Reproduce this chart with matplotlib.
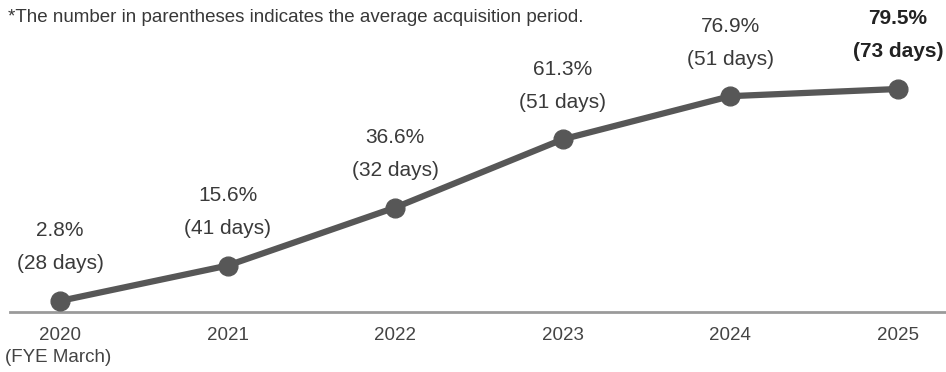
import matplotlib
matplotlib.use("Agg")
import matplotlib.pyplot as plt
from matplotlib import font_manager

years = ["2020", "2021", "2022", "2023", "2024", "2025"]
rates = [2.8, 15.6, 36.6, 61.3, 76.9, 79.5]
days = [28, 41, 32, 51, 51, 73]
note = "*The number in parentheses indicates the average acquisition period."

names = {f.name for f in font_manager.fontManager.ttflist}
family = "Liberation Sans Narrow" if "Liberation Sans Narrow" in names else "Liberation Sans"
plt.rcParams["font.family"] = [family, "DejaVu Sans"]

W, H = 946, 372
fig = plt.figure(figsize=(W / 100, H / 100), dpi=100)
ax = fig.add_axes([10 / W, 60 / H, 936 / W, 312 / H])

x = list(range(len(years)))
ax.plot(x, rates, color="#575757", lw=4.5, marker="o", ms=13.5, mfc="#575757",
        mec="#575757", solid_capstyle="round", zorder=3)

step = (898 - 60) / 5
ax.set_xlim((10 - 60) / step, (946 - 60) / step)
ax.set_ylim(-1.2, 111.7)

for i, (r, d) in enumerate(zip(rates, days)):
    last = i == len(rates) - 1
    weight = "bold" if last else "normal"
    color = "#222222" if last else "#3a3a3a"
    ax.annotate(f"{r}%", (i, r), xytext=(0, 70 * 0.72), textcoords="offset points",
                ha="center", va="center", fontsize=15, color=color, fontweight=weight)
    ax.annotate(f"({d} days)", (i, r), xytext=(0, 37 * 0.72), textcoords="offset points",
                ha="center", va="center", fontsize=15, color=color, fontweight=weight)

for s in ["top", "right", "left"]:
    ax.spines[s].set_visible(False)
ax.spines["bottom"].set_color("#9a9a9a")
ax.spines["bottom"].set_linewidth(2)
ax.set_yticks([])
ax.set_xticks(x)
ax.set_xticklabels(years, fontsize=13.5, color="#444444")
ax.tick_params(axis="x", length=0, pad=10.5)

fig.text(5 / W, 1 - 358 / H, "(FYE March)", ha="left", va="center",
         fontsize=13.5, color="#444444")
fig.text(8 / W, 1 - 18 / H, note, ha="left", va="center", fontsize=13.5, color="#383838")

fig.savefig("out.png", dpi=100)
